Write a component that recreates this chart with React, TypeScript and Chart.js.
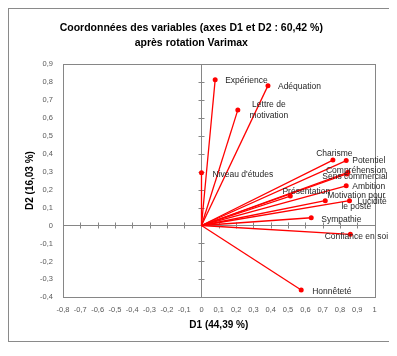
import React, { useEffect, useRef } from 'react';
import { Chart, registerables } from 'chart.js';

Chart.register(...registerables);

// ---- Data ----
const titleLines = ['Coordonnées des variables (axes D1 et D2 : 60,42 %)', 'après rotation Varimax'];
const xAxisTitle = 'D1 (44,39 %)';
const yAxisTitle = 'D2 (16,03 %)';

const variables = [
  'Expérience',
  'Adéquation',
  'Lettre de motivation',
  "Niveau d'études",
  'Charisme',
  'Potentiel',
  'Compréhension',
  'Sens commercial',
  'Ambition',
  'Présentation',
  'Motivation pour le poste',
  'Lucidité',
  'Sympathie',
  'Confiance en soi',
  'Honnêteté',
];
const d1Values = [0.079, 0.384, 0.21, 0.0, 0.759, 0.836, 0.846, 0.84, 0.836, 0.513, 0.715, 0.855, 0.634, 0.86, 0.576];
const d2Values = [0.811, 0.778, 0.643, 0.294, 0.364, 0.361, 0.296, 0.287, 0.221, 0.164, 0.138, 0.138, 0.043, -0.049, -0.359];

// Wrapped label text (display lines)
const labelLines: string[][] = [
  ['Expérience'],
  ['Adéquation'],
  ['Lettre de', 'motivation'],
  ["Niveau d'études"],
  ['Charisme'],
  ['Potentiel'],
  ['Compréhension'],
  ['Sens commercial'],
  ['Ambition'],
  ['Présentation'],
  ['Motivation pour', 'le poste'],
  ['Lucidité'],
  ['Sympathie'],
  ['Confiance en soi'],
  ['Honnêteté'],
];

// Axis ranges / ticks
const xMin = -0.8;
const xMax = 1;
const yMin = -0.4;
const yMax = 0.9;
const tickStep = 0.1;

// ---- Style (label placement relative to each point, in px) ----
const labelPlacement: [number, number, CanvasTextAlign][] = [
  [10, 1, 'left'],
  [10, 1, 'left'],
  [31, 0.5, 'center'],
  [11, 2, 'left'],
  [1.5, -6, 'center'],
  [6, 0, 'left'],
  [8, -2, 'center'],
  [8, 3, 'center'],
  [6, 1, 'left'],
  [16, -4.5, 'center'],
  [31, 0.5, 'center'],
  [8, 1, 'left'],
  [10, 1.5, 'left'],
  [6, 2, 'center'],
  [11, 2, 'left'],
];

const FONT = "'Liberation Sans', Arial, sans-serif";
const RED = '#FF0000';
const AXIS_GRAY = '#868686';

const fmt = (v: number) => {
  const r = Math.round(v * 10) / 10;
  return String(r).replace('.', ',');
};

const framePlugin = {
  id: 'frameAndLabels',
  beforeDraw(chart: any) {
    const { ctx, width, height } = chart;
    ctx.save();
    ctx.strokeStyle = '#8a8a8a';
    ctx.lineWidth = 1;
    ctx.strokeRect(0.5, 0.5, width - 2, height - 2);
    ctx.restore();
  },
  beforeDatasetsDraw(chart: any) {
    const { ctx, chartArea: a, scales } = chart;
    const xs = scales.x;
    const ys = scales.y;
    ctx.save();
    ctx.strokeStyle = AXIS_GRAY;
    ctx.lineWidth = 1;
    const L = Math.round(a.left) + 0.5;
    const R = Math.round(a.right) + 0.5;
    const T = Math.round(a.top) + 0.5;
    const B = Math.round(a.bottom) + 0.5;
    ctx.strokeRect(L, T, R - L, B - T);
    const x0 = Math.round(xs.getPixelForValue(0)) + 0.5;
    const y0 = Math.round(ys.getPixelForValue(0)) + 0.5;
    ctx.beginPath();
    ctx.moveTo(x0, T);
    ctx.lineTo(x0, B);
    ctx.moveTo(L, y0);
    ctx.lineTo(R, y0);
    xs.ticks.forEach((t: any) => {
      const px = Math.round(xs.getPixelForValue(t.value)) + 0.5;
      ctx.moveTo(px, y0 - 3);
      ctx.lineTo(px, y0 + 3);
    });
    ys.ticks.forEach((t: any) => {
      const py = Math.round(ys.getPixelForValue(t.value)) + 0.5;
      ctx.moveTo(x0 - 3, py);
      ctx.lineTo(x0 + 3, py);
    });
    ctx.stroke();
    ctx.restore();
  },
  afterDatasetsDraw(chart: any) {
    const { ctx, scales } = chart;
    const xs = scales.x;
    const ys = scales.y;
    ctx.save();
    ctx.font = `8.5px ${FONT}`;
    ctx.fillStyle = '#262626';
    ctx.textBaseline = 'middle';
    const lh = 11;
    variables.forEach((_, i) => {
      const px = xs.getPixelForValue(d1Values[i]);
      const py = ys.getPixelForValue(d2Values[i]);
      const [dx, dy, align] = labelPlacement[i];
      const lines = labelLines[i];
      ctx.textAlign = align;
      const startY = py + dy - ((lines.length - 1) * lh) / 2;
      lines.forEach((ln, k) => {
        ctx.fillText(ln, px + dx, startY + k * lh);
      });
    });
    ctx.restore();
  },
};

export default function App() {
  const ref = useRef<HTMLCanvasElement | null>(null);

  useEffect(() => {
    if (!ref.current) return;
    Chart.defaults.font.family = FONT;
    const datasets = variables.map((name, i) => ({
      label: name,
      data: [
        { x: 0, y: 0 },
        { x: d1Values[i], y: d2Values[i] },
      ],
      showLine: true,
      borderColor: RED,
      borderWidth: 1.3,
      backgroundColor: RED,
      pointBackgroundColor: RED,
      pointBorderColor: RED,
      pointRadius: [0, 2.5],
      pointBorderWidth: 0,
    }));

    const chart = new Chart(ref.current, {
      type: 'scatter',
      data: { datasets },
      plugins: [framePlugin],
      options: {
        animation: false,
        responsive: false,
        devicePixelRatio: 1,
        layout: { padding: { left: 0, right: 17.4, top: 0, bottom: 0 } },
        plugins: {
          legend: { display: false },
          tooltip: { enabled: false },
          title: {
            display: true,
            text: titleLines,
            color: '#000',
            font: { family: FONT, size: 10.5, weight: 'bold', lineHeight: 15 / 10.5 },
            padding: { top: 12.5, bottom: 13.2 },
          },
        },
        scales: {
          x: {
            type: 'linear',
            position: 'bottom',
            min: xMin,
            max: xMax,
            grid: { display: false, drawTicks: false },
            border: { display: false },
            ticks: {
              stepSize: tickStep,
              autoSkip: false,
              maxRotation: 0,
              padding: 8,
              color: '#595959',
              font: { size: 7.5, family: FONT },
              callback: (v: any) => fmt(Number(v)),
            },
            title: {
              display: true,
              text: xAxisTitle,
              color: '#000',
              font: { family: FONT, size: 10, weight: 'bold' },
              padding: { top: 0, bottom: 12 },
            },
            afterFit: (s: any) => {
              s.height = 45.6;
            },
          },
          y: {
            type: 'linear',
            position: 'left',
            min: yMin,
            max: yMax,
            grid: { display: false, drawTicks: false },
            border: { display: false },
            ticks: {
              stepSize: tickStep,
              autoSkip: false,
              padding: 10,
              color: '#595959',
              font: { size: 7.5, family: FONT },
              callback: (v: any) => fmt(Number(v)),
            },
            title: {
              display: true,
              text: yAxisTitle,
              color: '#000',
              font: { family: FONT, size: 10, weight: 'bold' },
              padding: { top: 16, bottom: 0 },
            },
            afterFit: (s: any) => {
              s.width = 55;
            },
          },
        },
      },
    });
    return () => chart.destroy();
  }, []);

  return (
    <div style={{ width: 384, height: 335 }}>
      <canvas ref={ref} width={384} height={335} style={{ display: 'block', width: 384, height: 335 }} />
    </div>
  );
}
